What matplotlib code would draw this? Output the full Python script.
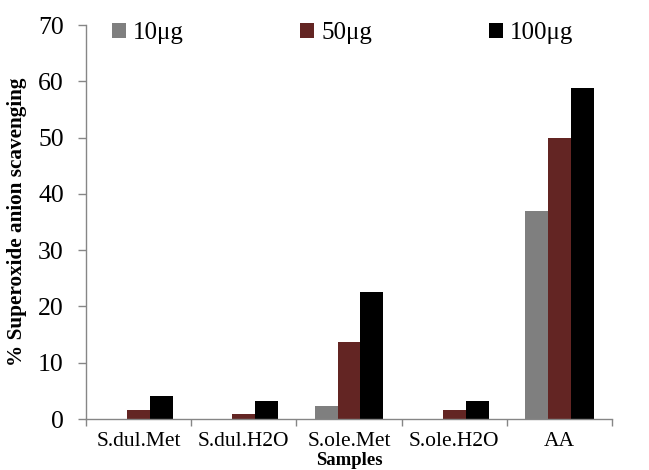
import numpy as np
import matplotlib.pyplot as plt

samples = ["S.dul.Met", "S.dul.H2O", "S.ole.Met", "S.ole.H2O", "AA"]
doses = ["10μg", "50μg", "100μg"]
val_10 = [0.0, 0.0, 2.3, 0.0, 37.0]
val_50 = [1.6, 0.8, 13.7, 1.6, 50.0]
val_100 = [4.0, 3.2, 22.5, 3.2, 58.8]
colors = ["#7f7f7f", "#632523", "#000000"]

plt.rcParams["font.family"] = ["Liberation Serif", "DejaVu Serif"]

W, H = 649, 470
fig = plt.figure(figsize=(W / 100, H / 100), dpi=100)
ax = fig.add_axes([86 / W, 51 / H, 526 / W, 394 / H])

x = np.arange(len(samples))
w = 0.2186
for i, (vals, lab, c) in enumerate(zip([val_10, val_50, val_100], doses, colors)):
    ax.bar(x + (i - 1) * w, vals, w, color=c, label=lab)

ax.set_xlim(-0.5, len(samples) - 0.5)
ax.set_ylim(0, 70)
ax.set_yticks(range(0, 71, 10))
ax.tick_params(axis="y", labelsize=18.5, direction="out", length=6, width=1,
               color="#868686", pad=10)
ax.set_xticks(x)
ax.set_xticklabels(samples, fontsize=15.5)
ax.tick_params(axis="x", length=0, pad=9)
ax.set_xticks(np.arange(-0.5, len(samples), 1), minor=True)
ax.tick_params(axis="x", which="minor", length=5, width=1, color="#868686", direction="out")

for s in ["top", "right"]:
    ax.spines[s].set_visible(False)
for s in ["left", "bottom"]:
    ax.spines[s].set_color("#868686")
    ax.spines[s].set_linewidth(1)

ax.set_ylabel("% Superoxide anion scavenging", fontsize=15.3, fontweight="bold")
ax.yaxis.set_label_coords(27 / W, 1 - 222 / H, transform=fig.transFigure)
fig.text(349 / W, 18 / H, "Samples", fontsize=13.5, fontweight="bold",
         ha="center", va="top")

fig.legend(loc="center left", bbox_to_anchor=(112 / W, 1 - 33 / H), ncol=3,
           frameon=False, fontsize=18, borderpad=0, borderaxespad=0,
           handlelength=0.55, handleheight=0.55, handletextpad=0.3,
           columnspacing=4.65)

fig.savefig("out.png", dpi=100)
